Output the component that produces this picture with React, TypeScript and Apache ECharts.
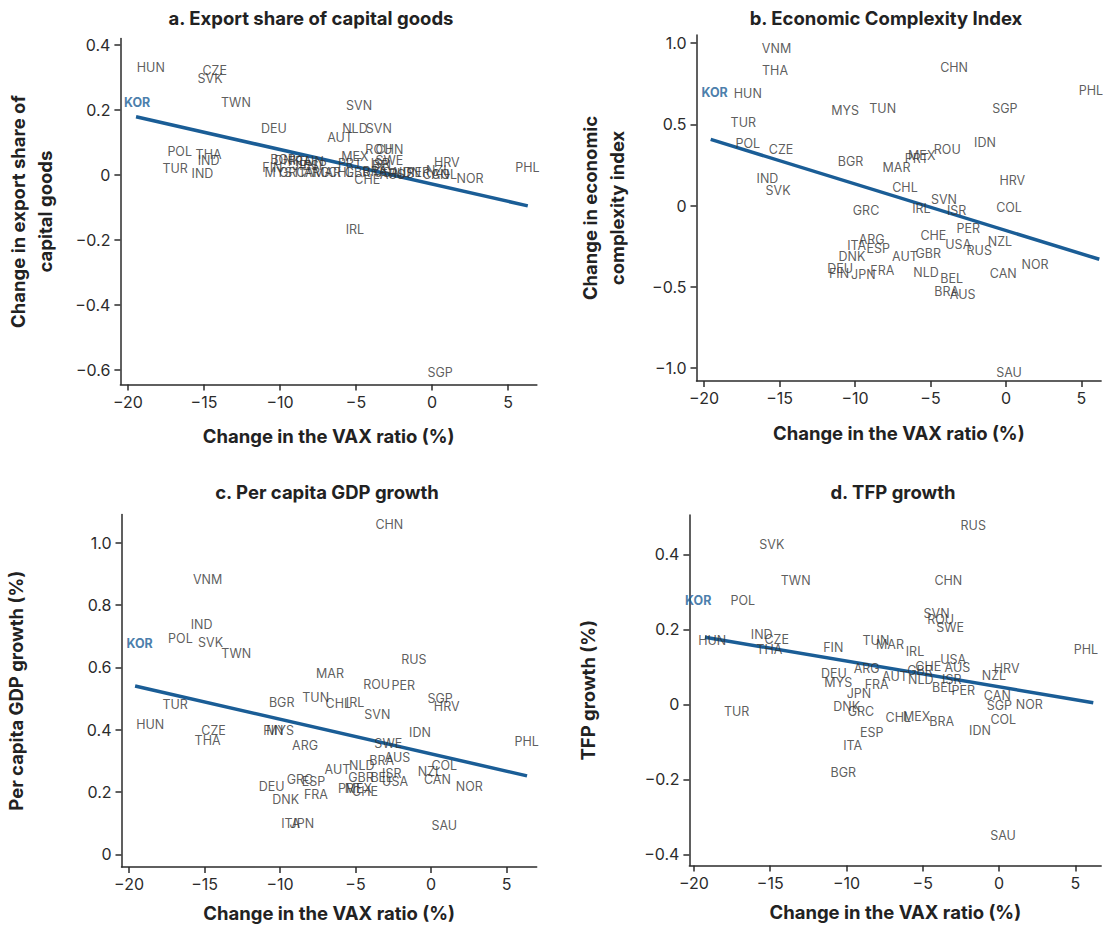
import React, { useEffect, useRef } from "react";
import * as echarts from "echarts";

// ---------------- DATA ----------------
const xTicks = [-20, -15, -10, -5, 0, 5];
const aTicks = [-0.6, -0.4, -0.2, 0, 0.2, 0.4];
const bTicks = [-1, -0.5, 0, 0.5, 1];
const cTicks = [0, 0.2, 0.4, 0.6, 0.8, 1.0];
const dTicks = [-0.4, -0.2, 0, 0.2, 0.4];

// Panel a: export share of capital goods
const aNames = ["HUN","CZE","SVK","TWN","SVN","DEU","NLD","SVN","AUT","POL","THA","IND","TUR","IND","MEX","ROU","CHN","PRT","SWE","HRV","PHL","NOR","CHE","FIN","MYS","BGR","DNK","FRA","TUN","ESP","JPN","GRC","ITA","ARG","MAR","CHL","GBR","ISR","BEL","BRA","USA","AUS","RUS","IDN","PER","NZL","CAN","COL","IRL","SGP"];
const aVax = [-18.5,-14.3,-14.6,-12.9,-4.8,-10.4,-5.07,-3.5,-6.05,-16.6,-14.7,-14.7,-16.9,-15.1,-5.07,-3.5,-2.8,-5.4,-2.8,0.97,6.27,2.5,-4.26,-10.5,-10.1,-9.8,-9.5,-8.7,-8.0,-7.7,-8.4,-9.2,-8.4,-7.6,-6.9,-6.0,-4.9,-3.4,-3.2,-3.75,-3.0,-2.6,-2.0,-1.45,-0.9,0.4,0.26,0.8,-5.07,0.53];
const aVal = [0.33,0.321,0.298,0.224,0.213,0.142,0.142,0.142,0.115,0.072,0.064,0.046,0.021,0.005,0.056,0.077,0.079,0.036,0.044,0.038,0.022,-0.01,-0.013,0.022,0.007,0.049,0.046,0.04,0.04,0.028,0.028,0.009,0.009,0.009,0.009,0.009,0.009,0.034,0.028,0.012,0.009,0.003,0.006,0.009,0.009,0.015,0.003,0.003,-0.169,-0.609];
const aKor = [-19.4, 0.222];
const aFitVax = [-19.47, 6.3];
const aFitVal = [0.179, -0.095];

// Panel b: economic complexity index
const bNames = ["VNM","THA","HUN","CHN","PHL","MYS","TUN","SGP","TUR","POL","CZE","IDN","ROU","MEX","PRT","BGR","MAR","IND","SVK","HRV","CHL","SVN","GRC","IRL","ISR","COL","PER","CHE","ARG","ITA","ESP","USA","NZL","RUS","DNK","AUT","GBR","NOR","DEU","FIN","JPN","FRA","NLD","BEL","CAN","BRA","AUS","SAU"];
const bVax = [-15.2,-15.3,-17.1,-3.44,5.63,-10.66,-8.17,-0.07,-17.4,-17.1,-14.9,-1.39,-3.89,-5.58,-5.91,-10.3,-7.25,-15.8,-15.1,0.42,-6.69,-4.11,-9.27,-5.6,-3.27,0.2,-2.5,-4.81,-8.9,-9.89,-8.46,-3.16,-0.4,-1.77,-10.2,-6.69,-5.15,1.92,-10.99,-11.06,-9.45,-8.19,-5.3,-3.6,-0.18,-3.93,-2.87,0.2];
const bVal = [0.967,0.83,0.69,0.848,0.706,0.583,0.596,0.596,0.51,0.383,0.346,0.386,0.346,0.306,0.29,0.27,0.233,0.167,0.095,0.153,0.112,0.04,-0.032,-0.017,-0.032,-0.013,-0.14,-0.186,-0.208,-0.249,-0.266,-0.239,-0.223,-0.274,-0.315,-0.315,-0.294,-0.36,-0.39,-0.417,-0.423,-0.401,-0.411,-0.448,-0.417,-0.53,-0.546,-1.029];
const bKor = [-19.3, 0.694];
const bFitVax = [-19.56, 6.18];
const bFitVal = [0.407, -0.331];

// Panel c: per capita GDP growth
const cNames = ["CHN","VNM","IND","POL","SVK","TWN","RUS","MAR","ROU","PER","BGR","TUN","CHL","IRL","SGP","HRV","SVN","FIN","MYS","IDN","PHL","ARG","SWE","AUS","BRA","NLD","AUT","COL","NZL","ISR","GBR","BEL","GRC","ESP","CAN","USA","DEU","PRT","MEX","CHE","NOR","FRA","DNK","ITA","JPN","SAU","HUN","TUR","CZE","THA"];
const cVax = [-2.76,-14.8,-15.2,-16.6,-14.6,-12.9,-1.13,-6.69,-3.6,-1.83,-9.89,-7.64,-6.14,-5.03,0.6,1.04,-3.56,-10.44,-10.0,-0.73,6.34,-8.34,-2.83,-2.23,-3.26,-4.59,-6.2,0.88,-0.07,-2.6,-4.64,-3.26,-8.68,-7.79,0.42,-2.38,-10.55,-5.36,-4.81,-4.37,2.54,-7.62,-9.62,-9.29,-8.56,0.88,-18.6,-16.95,-14.4,-14.8];
const cVal = [1.057,0.883,0.738,0.693,0.679,0.645,0.624,0.581,0.546,0.543,0.487,0.504,0.485,0.487,0.501,0.474,0.449,0.397,0.397,0.39,0.362,0.349,0.356,0.31,0.3,0.284,0.271,0.284,0.265,0.26,0.247,0.247,0.241,0.235,0.241,0.235,0.217,0.212,0.212,0.201,0.217,0.193,0.177,0.098,0.098,0.092,0.416,0.48,0.396,0.364];
const cKor = [-19.3, 0.675];
const cFitVax = [-19.6, 6.36];
const cFitVal = [0.54, 0.252];

// Panel d: TFP growth
const dNames = ["RUS","SVK","TWN","CHN","POL","SVN","ROU","SWE","HUN","IND","CZE","THA","FIN","TUN","MAR","IRL","PHL","USA","CHE","AUS","HRV","ARG","GBR","DEU","AUT","NLD","ISR","NZL","MYS","FRA","BEL","PER","CAN","JPN","TUR","DNK","GRC","SGP","NOR","CHL","MEX","BRA","COL","IDN","ESP","ITA","BGR","SAU"];
const dVax = [-1.69,-14.9,-13.33,-3.32,-16.8,-4.09,-3.83,-3.21,-18.8,-15.56,-14.58,-15.06,-10.87,-8.07,-7.15,-5.51,5.7,-3.0,-4.64,-2.73,0.5,-8.68,-5.18,-10.82,-6.82,-5.13,-3.1,-0.33,-10.54,-8.02,-3.65,-2.34,-0.11,-9.18,-17.2,-9.99,-9.05,0.02,1.99,-6.6,-5.4,-3.76,0.28,-1.25,-8.35,-9.59,-10.21,0.26];
const dVal = [0.478,0.427,0.33,0.331,0.278,0.243,0.227,0.204,0.171,0.185,0.174,0.145,0.151,0.171,0.16,0.14,0.145,0.12,0.102,0.098,0.096,0.095,0.09,0.081,0.074,0.065,0.067,0.076,0.059,0.053,0.044,0.036,0.023,0.029,-0.018,-0.006,-0.02,-0.004,0,-0.036,-0.033,-0.045,-0.04,-0.07,-0.076,-0.11,-0.182,-0.351];
const dKor = [-19.72, 0.276];
const dFitVax = [-19.28, 6.18];
const dFitVal = [0.179, 0.004];

const titles = [
  "a. Export share of capital goods",
  "b. Economic Complexity Index",
  "c. Per capita GDP growth",
  "d. TFP growth",
];
const xName = "Change in the VAX ratio (%)";
const yNames = [
  "Change in export share of\ncapital goods",
  "Change in economic\ncomplexity index",
  "Per capita GDP growth (%)",
  "TFP growth (%)",
];

// ---------------- STYLE ----------------
const FONT = "Inter, 'Open Sans', sans-serif";
const BLUE = "#1a5d96";
const INK = "#2b2b2b";
const LABEL = "#333333";
const BOLD_SIZE = 18.5;

const fmtNum = (v: number) => {
  if (Math.abs(v) < 1e-9) return "0";
  const s = v.toFixed(1);
  return s.replace("-", "\u2212");
};

export default function App() {
  const ref = useRef<HTMLDivElement>(null);
  useEffect(() => {
    if (!ref.current) return;
    const chart = echarts.init(ref.current, undefined, { renderer: "svg" });

    const panels = [
      { names: aNames, vax: aVax, val: aVal, kor: aKor, fx: aFitVax, fy: aFitVal, yTicks: aTicks,
        grid: { left: 120.4, top: 38.5, width: 416.5, height: 346.1 }, xr: [-20.5, 6.9], yr: [-0.645, 0.42], yGap: 62, xGap: 42,
        title: [306, 3] },
      { names: bNames, vax: bVax, val: bVal, kor: bKor, fx: bFitVax, fy: bFitVal, yTicks: bTicks,
        grid: { left: 696.5, top: 34.9, width: 404.6, height: 346.1 }, xr: [-20.5, 6.3], yr: [-1.08, 1.05], yGap: 66, xGap: 42,
        title: [881, 3] },
      { names: cNames, vax: cVax, val: cVal, kor: cKor, fx: cFitVax, fy: cFitVal, yTicks: cTicks,
        grid: { left: 121.5, top: 514.6, width: 415.2, height: 352.3 }, xr: [-20.5, 7.0], yr: [-0.04, 1.09], yGap: 92, xGap: 37,
        title: [322, 477] },
      { names: dNames, vax: dVax, val: dVal, kor: dKor, fx: dFitVax, fy: dFitVal, yTicks: dTicks,
        grid: { left: 689.4, top: 515, width: 411.8, height: 350.5 }, xr: [-20.3, 6.7], yr: [-0.43, 0.505], yGap: 88, xGap: 37,
        title: [888, 477] },
    ];

    const axisLine = { show: true, onZero: false, lineStyle: { color: INK, width: 1.5 } };
    const axisTickX = { show: true, length: 6, lineStyle: { color: INK, width: 1.5 }, customValues: xTicks };

    const option: any = {
      animation: false,
      backgroundColor: "#ffffff",
      textStyle: { fontFamily: FONT },
      title: panels.map((p, i) => ({
        text: titles[i],
        left: p.title[0],
        top: p.title[1],
        textAlign: "center",
        textStyle: { fontFamily: FONT, fontSize: BOLD_SIZE, fontWeight: "bold", color: "#222" },
      })),
      grid: panels.map((p) => ({ ...p.grid, containLabel: false })),
      xAxis: panels.map((p, i) => ({
        type: "value",
        gridIndex: i,
        min: p.xr[0],
        max: p.xr[1],
        axisLine,
        axisTick: axisTickX,
        splitLine: { show: false },
        axisLabel: {
          customValues: xTicks,
          fontSize: 16,
          color: INK,
          margin: 9,
          fontFamily: FONT,
          formatter: (v: number) => String(Math.round(v)).replace("-", "\u2212"),
        },
        name: xName,
        nameLocation: "middle",
        nameGap: p.xGap,
        nameTextStyle: { fontFamily: FONT, fontSize: BOLD_SIZE, fontWeight: "bold", color: "#222" },
      })),
      yAxis: panels.map((p, i) => ({
        type: "value",
        gridIndex: i,
        min: p.yr[0],
        max: p.yr[1],
        axisLine,
        axisTick: { show: true, length: 6, lineStyle: { color: INK, width: 1.5 }, customValues: p.yTicks },
        splitLine: { show: false },
        axisLabel: {
          customValues: p.yTicks,
          fontSize: 16,
          color: INK,
          margin: 10,
          fontFamily: FONT,
          formatter: (v: number) => fmtNum(v),
        },
        name: yNames[i],
        nameLocation: "middle",
        nameGap: p.yGap,
        nameTextStyle: { fontFamily: FONT, fontSize: BOLD_SIZE, fontWeight: "bold", color: "#222", lineHeight: 27 },
      })),
      series: panels.flatMap((p, i) => [
        {
          type: "line",
          xAxisIndex: i,
          yAxisIndex: i,
          data: p.fx.map((x, k) => [x, p.fy[k]]),
          showSymbol: false,
          symbol: "none",
          lineStyle: { color: BLUE, width: 3.5 },
          z: 2,
          silent: true,
        },
        {
          type: "scatter",
          xAxisIndex: i,
          yAxisIndex: i,
          data: p.names.map((n, k) => [p.vax[k], p.val[k], n]),
          symbolSize: 0.1,
          itemStyle: { color: "rgba(0,0,0,0)" },
          label: {
            show: true,
            position: "inside",
            formatter: (d: any) => d.data[2],
            fontFamily: FONT,
            fontSize: 12.5,
            color: LABEL,
          },
          z: 3,
          silent: true,
        },
        {
          type: "scatter",
          xAxisIndex: i,
          yAxisIndex: i,
          data: [[p.kor[0], p.kor[1], "KOR"]],
          symbolSize: 0.1,
          itemStyle: { color: "rgba(0,0,0,0)" },
          label: {
            show: true,
            position: "inside",
            formatter: (d: any) => d.data[2],
            fontFamily: FONT,
            fontSize: 12.5,
            fontWeight: "bold",
            color: BLUE,
          },
          z: 4,
          silent: true,
        },
      ]),
    };

    chart.setOption(option);
    return () => chart.dispose();
  }, []);

  return (
    <div
      ref={ref}
      style={{ position: "absolute", left: 0, top: 0, width: 1107, height: 927, background: "#fff" }}
    />
  );
}
